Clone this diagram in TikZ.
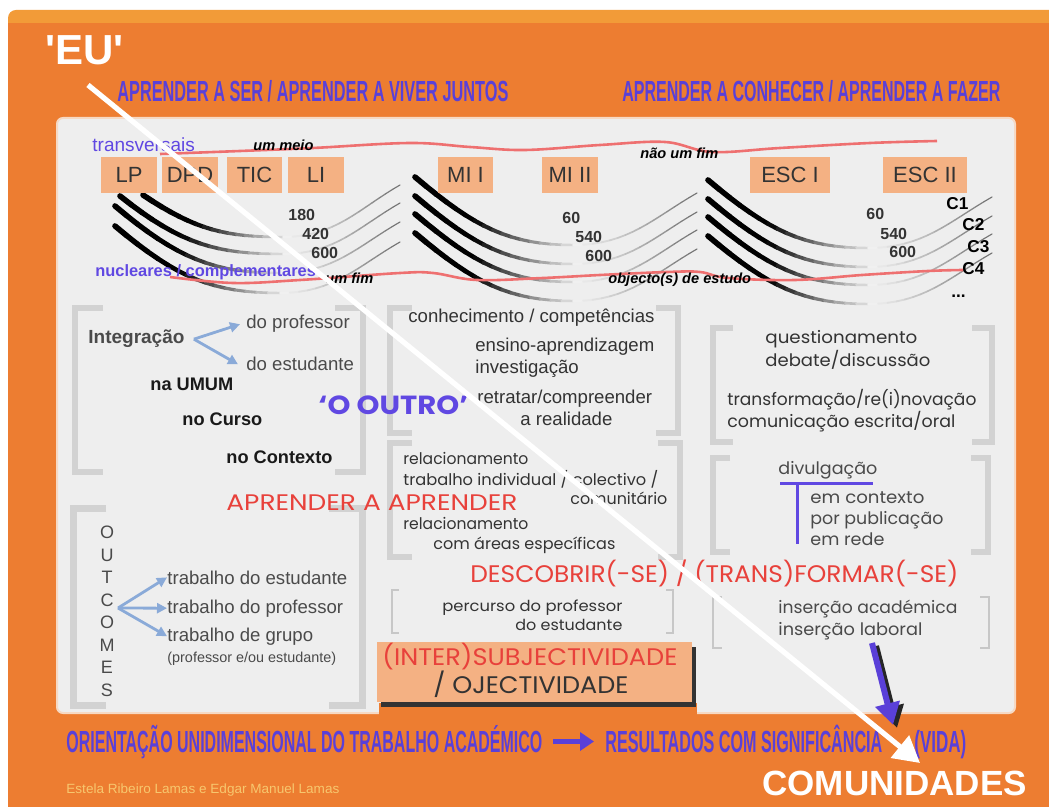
\documentclass[tikz,border=0pt]{standalone}
\usepackage{fontspec}
\usepackage{graphicx}
\setmainfont{Liberation Sans}
\newfontfamily\pop{Poppins}
\font\eufnt="Liberation Sans/B" at 21pt
\usetikzlibrary{arrows.meta}
\definecolor{orng}{HTML}{ED7D31}
\definecolor{orngl}{HTML}{F29B38}
\definecolor{panel}{HTML}{EEEEEE}
\definecolor{panelb}{HTML}{F6D9C4}
\definecolor{boxf}{HTML}{F4B183}
\definecolor{purp}{HTML}{5A40D8}
\definecolor{purpl}{HTML}{6048E2}
\definecolor{redt}{HTML}{E8413B}
\definecolor{redl}{HTML}{EE7070}
\definecolor{brk}{HTML}{D2D2D2}
\definecolor{dark}{HTML}{333333}
\definecolor{mid}{HTML}{4A4A4A}
\definecolor{arrb}{HTML}{8AAAD8}
\definecolor{yel}{HTML}{F7C76E}
\newsavebox\cbx
\newsavebox\abx
\newcommand\cond[3]{\sbox\cbx{#3}\sbox\abx{A}\ht\cbx=\ht\abx \dp\cbx=0pt \resizebox{#1}{#2}{\usebox\cbx}}
\newcommand\fitx[2]{\resizebox{#1}{\height}{#2}}
\newcommand\bezpt[9]{%
 \pgfmathsetmacro\bzu{1-#1}%
 \pgfmathsetmacro\bpx{\bzu*\bzu*\bzu*(#2)+3*\bzu*\bzu*#1*(#4)+3*\bzu*#1*#1*(#6)+#1*#1*#1*(#8)}%
 \pgfmathsetmacro\bpy{\bzu*\bzu*\bzu*(#3)+3*\bzu*\bzu*#1*(#5)+3*\bzu*#1*#1*(#7)+#1*#1*#1*(#9)}%
}
\newcommand\swoosh[6]{%
 \pgfmathsetmacro\sdx{#3-#1}%
 \pgfmathsetmacro\pax{#1+0.38*\sdx}%
 \pgfmathsetmacro\pay{#2+min(0.32*\sdx,0.85*(#4-#2))}%
 \pgfmathsetmacro\pbx{#3-0.4*\sdx}%
 \pgfmathsetmacro\edx{#5-#3}%
 \pgfmathsetmacro\pcx{#3+0.45*\edx}%
 \pgfmathsetmacro\pdx{#5-0.35*\edx}%
 \pgfmathsetmacro\pdy{#6+min(0.2*\edx,0.8*(#4-#6))}%
 \foreach \i in {0,...,15}{%
   \pgfmathsetmacro\ta{\i/16}\pgfmathsetmacro\tb{(\i+1)/16}%
   \bezpt{\ta}{#1}{#2}{\pax}{\pay}{\pbx}{#4}{#3}{#4}\let\xa\bpx\let\ya\bpy
   \bezpt{\tb}{#1}{#2}{\pax}{\pay}{\pbx}{#4}{#3}{#4}%
   \pgfmathtruncatemacro\pct{100-92*max(0,(\ta-0.35)/0.65)}%
   \pgfmathsetmacro\lw{(5.6-3.4*\ta)*0.5}%
   \draw[line width=\lw pt, color=black!\pct, line cap=round] (\xa,\ya) -- (\bpx,\bpy);
 }%
 \foreach \i in {0,...,15}{%
   \pgfmathsetmacro\ta{\i/16}\pgfmathsetmacro\tb{(\i+1)/16}%
   \bezpt{\ta}{#3}{#4}{\pcx}{#4}{\pdx}{\pdy}{#5}{#6}\let\xa\bpx\let\ya\bpy
   \bezpt{\tb}{#3}{#4}{\pcx}{#4}{\pdx}{\pdy}{#5}{#6}%
   \pgfmathtruncatemacro\pct{6+52*\ta}%
   \pgfmathsetmacro\lw{(2-0.9*\ta)*0.5}%
   \draw[line width=\lw pt, color=black!\pct, line cap=round] (\xa,\ya) -- (\bpx,\bpy);
 }%
}
\newcommand\brpair[6]{%
 \draw[#6] ({#1+#5},#3) -- (#1,#3) -- (#1,#4) -- ({#1+#5},#4);
 \draw[#6] ({#2-#5},#3) -- (#2,#3) -- (#2,#4) -- ({#2-#5},#4);
}
\tikzset{
 lbl/.style={inner sep=0pt, anchor=base west},
 obox/.style={fill=boxf, minimum width=28pt, minimum height=18pt, inner sep=0pt, font=\fontsize{11}{13}\selectfont, text=dark},
 brkt/.style={draw=brk, line width=3pt},
 brkthin/.style={draw=black!22, line width=1pt},
 num/.style={lbl, font=\bfseries\fontsize{8}{9}\selectfont, text=dark},
 cl/.style={lbl, font=\bfseries\fontsize{8.6}{10}\selectfont, text=black},
 bi/.style={lbl, font=\bfseries\itshape\fontsize{7.3}{9}\selectfont, text=black},
 ar/.style={lbl, font=\fontsize{9.3}{11}\selectfont, text=mid},
 arb/.style={lbl, font=\bfseries\fontsize{9.1}{11}\selectfont, text=black!90},
 pp/.style={lbl, font=\pop\fontsize{8}{10}\selectfont, text=dark},
 pq/.style={lbl, font=\pop\fontsize{8.6}{11}\selectfont, text=dark},
 redbig/.style={lbl, font=\pop, text=redt},
 hd/.style={lbl, font=\bfseries, text=purp},
 barrow/.style={draw=arrb, line width=1.4pt, -{Triangle[length=5pt,width=5pt]}},
 redline/.style={draw=redl, line width=1.3pt},
}
\begin{document}
\begin{tikzpicture}[x=0.5pt,y=-0.5pt]
\useasboundingbox (0,0) rectangle (1049,807);
\clip (0,0) rectangle (1049,807);
\fill[white] (0,0) rectangle (1049,807);
\fill[orngl, rounded corners=4pt] (8,10) rectangle (1070,830);
\fill[orng] (8,23) rectangle (1070,830);
% panel
\fill[panel, draw=panelb, line width=1pt, rounded corners=3pt] (57,118) rectangle (1015,713);
\fill[orng] (379,703) rectangle (697,720);
% swooshes
\swoosh{143}{195}{283}{237}{400}{185}
\swoosh{120}{196}{283}{254}{400}{203}
\swoosh{115}{206}{280}{273}{400}{222}
\swoosh{115}{226}{280}{293}{400}{242}
\foreach \d in {0,19,37,56}{
 \swoosh{415}{177+\d}{573}{245+\d}{697}{193+\d}
 \swoosh{708}{180+\d}{868}{248+\d}{992}{197+\d}
}
% red lines
\draw[redline] plot[smooth, tension=0.6] coordinates {(160,154) (240,151) (313,148) (410,143) (470,147) (525,150) (600,145) (665,142) (712,152) (780,148) (870,143) (937,141)};
\draw[redline] plot[smooth, tension=0.6] coordinates {(170,277) (233,283) (300,280) (400,273) (433,273) (477,280) (543,278) (600,275) (667,272) (700,272) (728,278) (795,280) (862,275) (928,271) (963,270)};
% brackets
\brpair{75}{363}{308}{472}{28}{brkt}
\brpair{390}{678}{308}{433}{22}{brkt}
\brpair{390}{680}{443}{557}{22}{brkt}
\brpair{713}{992}{328}{442}{20}{brkt}
\brpair{713}{988}{458}{552}{17}{brkt}
\brpair{73}{362}{508}{705}{33}{brkt, line width=3.5pt}
\brpair{392}{673}{590}{633}{7}{brkthin}
\brpair{713}{989}{597}{648}{9}{brkthin}
% titles
\node[lbl, font=\eufnt, text=white] (eu) at (45,65) {'EU'};
\node[lbl, font=\bfseries\fontsize{17.5}{20}\selectfont, text=white] (com) at (762,795) {COMUNIDADES};
\node[hd] (h1) at (117,102) {\cond{195.5pt}{10pt}{APRENDER A SER / APRENDER A VIVER JUNTOS}};
\node[hd] (h2) at (622,102) {\cond{189pt}{10pt}{APRENDER A CONHECER / APRENDER A FAZER}};
\node[hd] (o1) at (66,752) {\cond{238pt}{10.5pt}{ORIENTAÇÃO UNIDIMENSIONAL DO TRABALHO ACADÉMICO}};
\node[hd] (o2) at (605,752) {\cond{138.5pt}{10.5pt}{RESULTADOS COM SIGNIFICÂNCIA}};
\node[hd] (o3) at (914,752) {\cond{26pt}{10.5pt}{(VIDA)}};
\draw[purp, line width=2.5pt, -{Triangle[length=7pt,width=9pt]}] ([xshift=5pt]o1.east) -- ([xshift=-5.5pt]o2.west);
\node[lbl, text=yel] (auth) at (66,793) {\cond{136.5pt}{4.6pt}{Estela Ribeiro Lamas e Edgar Manuel Lamas}};
% top row
\node[lbl, font=\fontsize{9.5}{11}\selectfont, text=purpl] (tv) at (92,152) {transversais};
\node[lbl, font=\bfseries\fontsize{8.2}{10}\selectfont, text=purpl] (nc) at (95,277) {nucleares / complementares};
\node[bi] (um) at (253,151) {um meio};
\node[bi] (nuf) at (640,159) {não um fim};
\node[bi] (uf) at (325,284) {um fim};
\node[bi] (obj) at (608,284) {objecto(s) de estudo};
\node[obox] (lp) at (129,175) {LP};
\node[obox] (dpd) at (190,175) {DPD};
\node[obox, minimum width=27.5pt] (tic) at (254.5,175) {TIC};
\node[obox] (li) at (316,175) {LI};
\node[obox, minimum width=27.5pt] (mi1) at (465.5,175) {MI I};
\node[obox] (mi2) at (570,175) {MI II};
\node[obox, minimum width=40pt] (esc1) at (790,175) {ESC I};
\node[obox, minimum width=42pt] (esc2) at (925,175) {ESC II};
\node[num] (a1) at (288,221) {180};
\node[num] (a2) at (302,240) {420};
\node[num] (a3) at (311,259) {600};
\node[num] (b1) at (562,224) {60};
\node[num] (b2) at (575,243) {540};
\node[num] (b3) at (585,262) {600};
\node[num] (c1) at (866,220) {60};
\node[num] (c2) at (880,240) {540};
\node[num] (c3) at (889,258) {600};
\node[cl] (k1) at (946,210) {C1};
\node[cl] (k2) at (962,231) {C2};
\node[cl] (k3) at (967,253) {C3};
\node[cl] (k4) at (962,275) {C4};
\node[cl] (k5) at (951,298) {...};
% column 1
\node[lbl, font=\bfseries\fontsize{9.5}{11}\selectfont, text=mid] (integ) at (88,344) {Integração};
\node[ar] (dprof) at (246,329) {do professor};
\node[ar] (dest) at (246,371) {do estudante};
\draw[barrow] ([xshift=4.5pt]integ.east) -- ([xshift=-3pt]dprof.west);
\draw[barrow] ([xshift=4.5pt]integ.east) -- ([xshift=-4pt]dest.west);
\node[arb] (umum) at (150,391) {na UMUM};
\node[arb] (curso) at (182,425) {no Curso};
\node[arb] (ctx) at (226,463) {no Contexto};
\node[lbl, font=\pop\bfseries, text=purpl] (outro) at (318,415) {\cond{75pt}{9.2pt}{‘O OUTRO’}};
\node[redbig] (aaa) at (226,510) {\cond{145.5pt}{7.8pt}{APRENDER A APRENDER}};
% column 2
\node[ar, text=dark] (conh) at (408,323) {conhecimento / competências};
\node[ar, text=dark] (ens) at (475,352) {ensino-aprendizagem};
\node[ar, text=dark] (inv) at (475,374) {investigação};
\node[ar, text=dark] (ret) at (477,404) {retratar/compreender};
\node[ar, text=dark] (real) at (520,426) {a realidade};
\node[pp] (rel1) at (403,465) {\fitx{62.5pt}{relacionamento}};
\node[pp] (trab) at (403,485) {\fitx{127.5pt}{trabalho individual / colectivo /}};
\node[pp] (comu) at (570,504) {\fitx{48.5pt}{comunitário}};
\node[pp] (rel2) at (403,530) {\fitx{62.5pt}{relacionamento}};
\node[pp] (areas) at (433,549) {\fitx{91pt}{com áreas específicas}};
\node[redbig] (desc) at (470,582) {\cond{244pt}{8.3pt}{DESCOBRIR(-SE) / (TRANS)FORMAR(-SE)}};
\node[pp, font=\pop\fontsize{7.6}{9}\selectfont] (perc) at (442,611) {\fitx{90pt}{percurso do professor}};
\node[pp, font=\pop\fontsize{7.6}{9}\selectfont] (perc2) at (515,630) {\fitx{53.5pt}{do estudante}};
% subjectividade box
\fill[black!80] (381,647) rectangle (696,707);
\node[fill=boxf, minimum width=157.5pt, minimum height=30pt, inner sep=0pt] (subj) at (534.5,672) {};
\node[redbig] (subj1) at (382,665) {\cond{147.5pt}{8.3pt}{(INTER)SUBJECTIVIDADE}};
\node[redbig, text=dark] (subj2) at (433,693) {\cond{97.5pt}{8.3pt}{/ OJECTIVIDADE}};
% column 3
\node[pq] (quest) at (765,344) {\fitx{76pt}{questionamento}};
\node[pq] (deb) at (765,366) {\fitx{82.5pt}{debate/discussão}};
\node[pq] (transf) at (727,406) {\fitx{124.5pt}{transformação/re(i)novação}};
\node[pq] (comm) at (727,428) {\fitx{114pt}{comunicação escrita/oral}};
\node[pq, text=mid] (div) at (778,474) {\fitx{49.5pt}{divulgação}};
\draw[purpl, line width=1.5pt] (780,483) -- (873,483);
\draw[purpl, line width=1.5pt] (797,483) -- (797,544);
\node[pq, text=mid] (emc) at (810,503) {\fitx{57pt}{em contexto}};
\node[pq, text=mid] (pub) at (810,524) {\fitx{66.5pt}{por publicação}};
\node[pq, text=mid] (rede) at (810,545) {\fitx{37pt}{em rede}};
\node[pq, text=mid] (ins1) at (778,613) {\fitx{89.5pt}{inserção académica}};
\node[pq, text=mid] (ins2) at (778,635) {\fitx{72pt}{inserção laboral}};
% outcomes
\foreach \ch/\yy [count=\n] in {O/532,U/555,T/577,C/600,O/622,M/645,E/667,S/690}{
 \node[inner sep=0pt, font=\fontsize{9}{10}\selectfont, text=mid] (oc\n) at (107,\yy) {\ch};
}
\node[ar] (tde) at (167,584) {trabalho do estudante};
\node[ar] (tdp) at (167,613) {trabalho do professor};
\node[ar] (tdg) at (167,641) {trabalho de grupo};
\node[ar, font=\fontsize{7.2}{9}\selectfont] (tdg2) at (167,662) {(professor e/ou estudante)};
\coordinate (ocs) at (118,608);
\draw[barrow] (ocs) -- (tde.west);
\draw[barrow] (ocs) -- (tdp.west);
\draw[barrow] (ocs) -- (tdg.west);
% arrows
\coordinate (pa) at (872,643);
\coordinate (pb) at (893,725);
\coordinate (pas) at (876,646);
\coordinate (pbs) at (897,728);
\draw[black!85, line width=3pt, -{Triangle[length=11pt,width=12pt]}] (pas) -- (pbs);
\draw[purp, line width=3pt, -{Triangle[length=11pt,width=12pt]}] (pa) -- (pb);
\coordinate (wa) at (88,85);
\coordinate (wb) at (920,763);
\draw[white, line width=2.6pt, -{Triangle[length=13pt,width=14pt]}] (wa) -- (wb);
\end{tikzpicture}
\end{document}
